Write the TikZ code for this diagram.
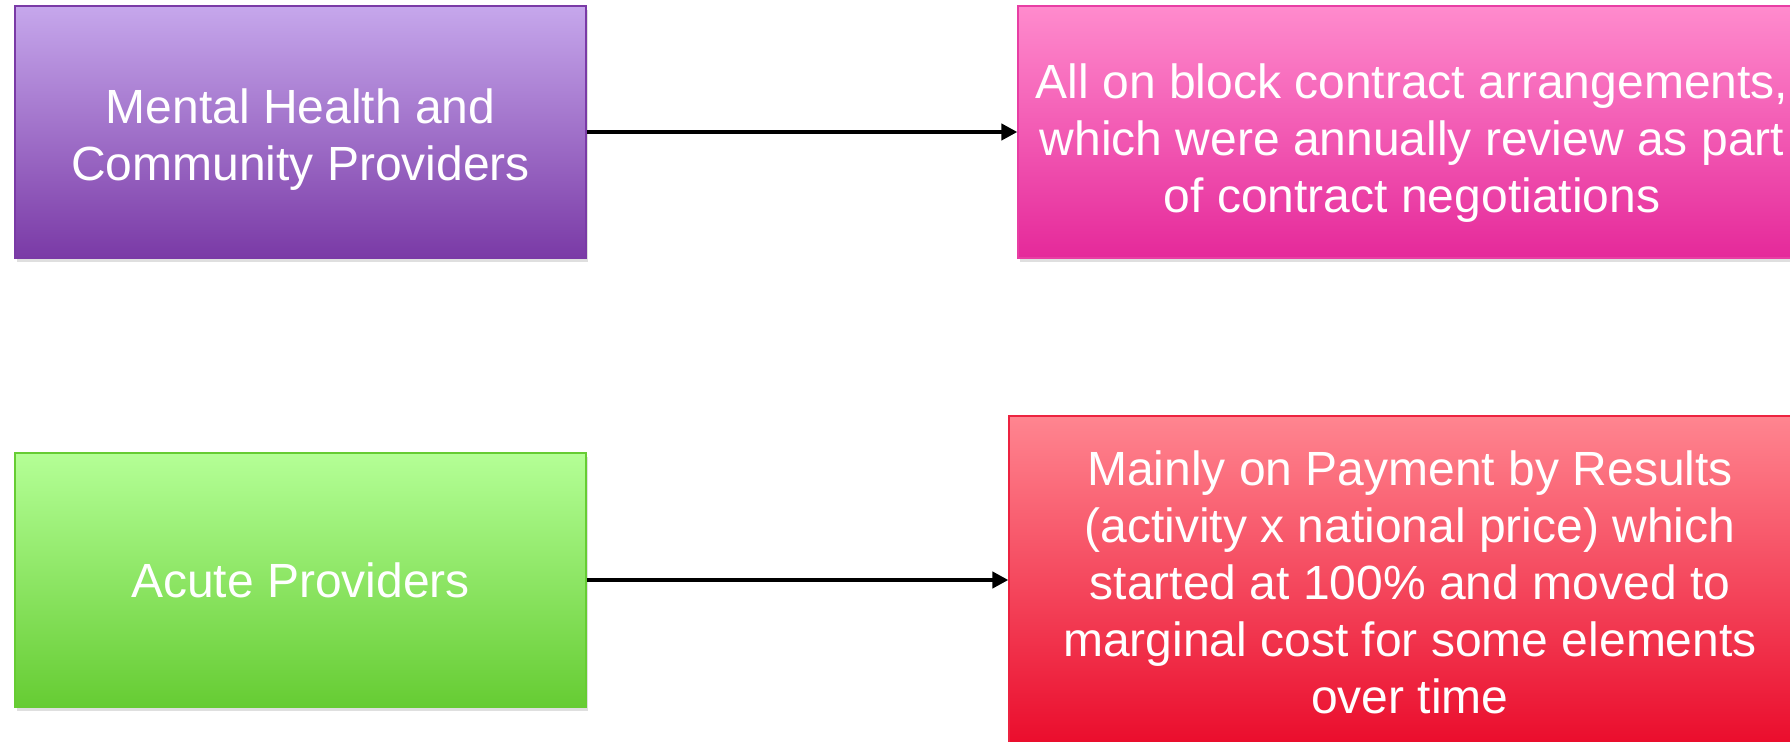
\documentclass[tikz,border=0pt]{standalone}
\usepackage{fontspec}
\setmainfont{Liberation Sans}
\usetikzlibrary{arrows.meta,shadows,positioning}

\definecolor{mhtop}{HTML}{C6A7EC}
\definecolor{mhbot}{HTML}{7A3AA6}
\definecolor{blocktop}{HTML}{FF8BCD}
\definecolor{blockbot}{HTML}{E5299A}
\definecolor{acutetop}{HTML}{B4FF96}
\definecolor{acutebot}{HTML}{66CC33}
\definecolor{pbrtop}{HTML}{FF8590}
\definecolor{pbrbot}{HTML}{EA0B2B}

\tikzset{
  provbox/.style={rectangle, line width=0.6pt, text=white, align=center,
    font=\fontsize{24}{28.5}\selectfont,
    drop shadow={opacity=0.25, shadow xshift=0.8pt, shadow yshift=-2pt}},
  flow/.style={line width=2pt, -{Triangle[length=8pt,width=8pt]}}
}

\begin{document}
\begin{tikzpicture}[x=0.5pt, y=-0.5pt]
  \useasboundingbox (0,0) rectangle (1790,742);
  \clip (0,0) rectangle (1790,742);
  \fill[white] (0,0) rectangle (1790,742);

  \node[provbox, draw=mhbot, top color=mhtop, bottom color=mhbot,
    minimum width=285.5pt, minimum height=126pt] (mental) at (300.5,132)
    {\rule{0pt}{24.5pt}Mental Health and\\Community Providers};
  \node[provbox, draw=blockbot!90!white, top color=blocktop, bottom color=blockbot,
    minimum width=394pt, minimum height=126pt] (block) at (1412,132)
    {\rule{0pt}{28.5pt}All on block contract arrangements,\\which were annually review as part\\of contract negotiations};
  \node[provbox, draw=acutebot, top color=acutetop, bottom color=acutebot,
    minimum width=285.5pt, minimum height=127pt] (acute) at (300.5,580)
    {Acute Providers};
  \node[provbox, draw=pbrbot!90!white, top color=pbrtop, bottom color=pbrbot,
    minimum width=401pt, minimum height=166pt] (pbr) at (1410,582)
    {Mainly on Payment by Results\\(activity x national price) which\\started at 100\% and moved to\\marginal cost for some elements\\over time};

  \draw[flow] (mental.east) -- (block.west);
  \draw[flow] (acute.east) -- (acute.east -| pbr.west);
\end{tikzpicture}
\end{document}
